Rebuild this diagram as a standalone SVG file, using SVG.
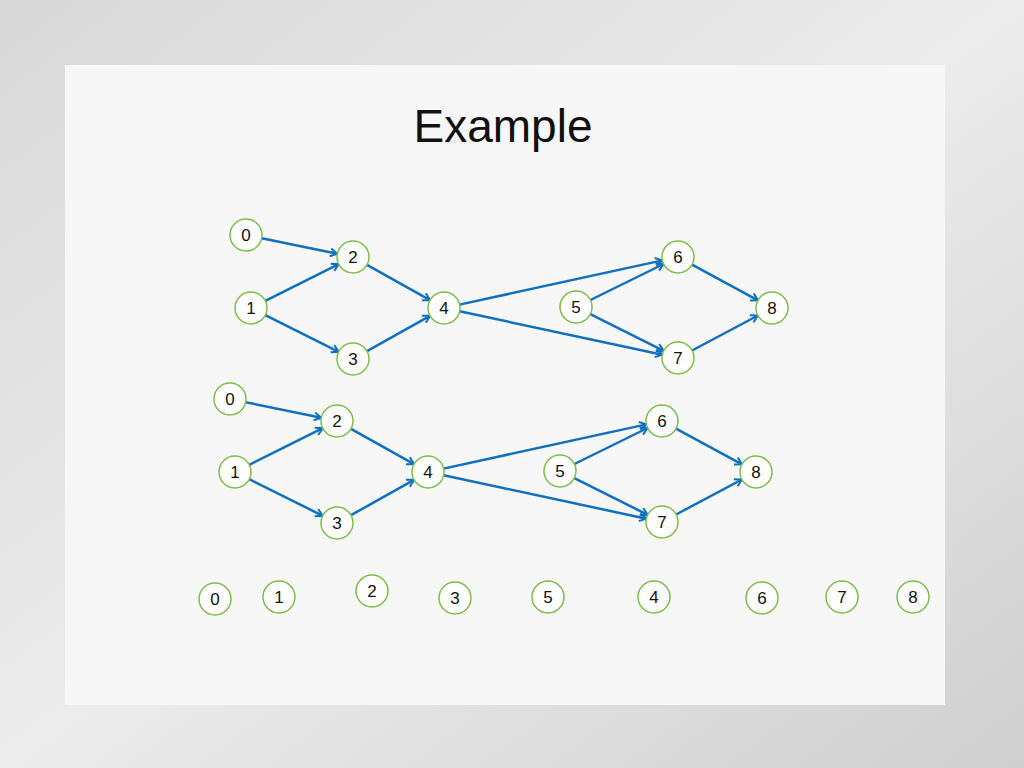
<svg xmlns="http://www.w3.org/2000/svg" width="1024" height="768" viewBox="0 0 1024 768">
<defs>
<marker id="ah" markerWidth="10" markerHeight="10" refX="8" refY="5" orient="auto" markerUnits="userSpaceOnUse">
<path d="M1,1 L8,5 L1,9" fill="none" stroke="#1070C0" stroke-width="2"/>
</marker>
<linearGradient id="bg" x1="0" y1="0" x2="1" y2="1">
<stop offset="0" stop-color="#d8d8d8"/><stop offset="0.5" stop-color="#ececec"/><stop offset="1" stop-color="#cfcfcf"/>
</linearGradient>
</defs>
<style>
.n circle{fill:#ffffff;stroke:#7DBE4A;stroke-width:1.5}
.n text{font-family:"Liberation Sans",Arial,sans-serif;font-size:17px;fill:#111;text-anchor:middle;dominant-baseline:central}
.e line{stroke:#1070C0;stroke-width:2.5;marker-end:url(#ah)}
</style>
<rect width="1024" height="768" fill="url(#bg)"/>
<rect x="65" y="65" width="880" height="640" fill="#f7f7f7"/>
<text x="503" y="126" font-family="Liberation Sans,Arial,sans-serif" font-size="46" text-anchor="middle" dominant-baseline="central" fill="#111">Example</text>

<g id="graph1">
<g id="connectors1" class="e">
<line x1="261.7" y1="238.2" x2="337.3" y2="253.8"/>
<line x1="265.3" y1="300.8" x2="338.7" y2="264.2"/>
<line x1="265.3" y1="315.2" x2="338.7" y2="351.8"/>
<line x1="367" y1="264.8" x2="430" y2="300.2"/>
<line x1="367" y1="351.2" x2="430" y2="315.8"/>
<line x1="459.6" y1="304.6" x2="662.4" y2="260.4"/>
<line x1="459.6" y1="311.3" x2="662.4" y2="354.7"/>
<line x1="590.4" y1="300" x2="663.6" y2="264"/>
<line x1="590.3" y1="314.2" x2="663.7" y2="350.8"/>
<line x1="692" y1="264.6" x2="758" y2="300.4"/>
<line x1="692.1" y1="350.5" x2="757.9" y2="315.5"/>
</g>
<g id="a0" class="n"><circle cx="246" cy="235" r="16"/><text x="246" y="235">0</text></g>
<g id="a1" class="n"><circle cx="251" cy="308" r="16"/><text x="251" y="308">1</text></g>
<g id="a2" class="n"><circle cx="353" cy="257" r="16"/><text x="353" y="257">2</text></g>
<g id="a3" class="n"><circle cx="353" cy="359" r="16"/><text x="353" y="359">3</text></g>
<g id="a4" class="n"><circle cx="444" cy="308" r="16"/><text x="444" y="308">4</text></g>
<g id="a5" class="n"><circle cx="576" cy="307" r="16"/><text x="576" y="307">5</text></g>
<g id="a6" class="n"><circle cx="678" cy="257" r="16"/><text x="678" y="257">6</text></g>
<g id="a7" class="n"><circle cx="678" cy="358" r="16"/><text x="678" y="358">7</text></g>
<g id="a8" class="n"><circle cx="772" cy="308" r="16"/><text x="772" y="308">8</text></g>
</g>

<g id="graph2" transform="translate(-16,164)">
<g id="connectors2" class="e">
<line x1="261.7" y1="238.2" x2="337.3" y2="253.8"/>
<line x1="265.3" y1="300.8" x2="338.7" y2="264.2"/>
<line x1="265.3" y1="315.2" x2="338.7" y2="351.8"/>
<line x1="367" y1="264.8" x2="430" y2="300.2"/>
<line x1="367" y1="351.2" x2="430" y2="315.8"/>
<line x1="459.6" y1="304.6" x2="662.4" y2="260.4"/>
<line x1="459.6" y1="311.3" x2="662.4" y2="354.7"/>
<line x1="590.4" y1="300" x2="663.6" y2="264"/>
<line x1="590.3" y1="314.2" x2="663.7" y2="350.8"/>
<line x1="692" y1="264.6" x2="758" y2="300.4"/>
<line x1="692.1" y1="350.5" x2="757.9" y2="315.5"/>
</g>
<g id="b0" class="n"><circle cx="246" cy="235" r="16"/><text x="246" y="235">0</text></g>
<g id="b1" class="n"><circle cx="251" cy="308" r="16"/><text x="251" y="308">1</text></g>
<g id="b2" class="n"><circle cx="353" cy="257" r="16"/><text x="353" y="257">2</text></g>
<g id="b3" class="n"><circle cx="353" cy="359" r="16"/><text x="353" y="359">3</text></g>
<g id="b4" class="n"><circle cx="444" cy="308" r="16"/><text x="444" y="308">4</text></g>
<g id="b5" class="n"><circle cx="576" cy="307" r="16"/><text x="576" y="307">5</text></g>
<g id="b6" class="n"><circle cx="678" cy="257" r="16"/><text x="678" y="257">6</text></g>
<g id="b7" class="n"><circle cx="678" cy="358" r="16"/><text x="678" y="358">7</text></g>
<g id="b8" class="n"><circle cx="772" cy="308" r="16"/><text x="772" y="308">8</text></g>
</g>

<g id="order">
<g id="c0" class="n"><circle cx="215" cy="599" r="16"/><text x="215" y="599">0</text></g>
<g id="c1" class="n"><circle cx="279" cy="597" r="16"/><text x="279" y="597">1</text></g>
<g id="c2" class="n"><circle cx="372" cy="591" r="16"/><text x="372" y="591">2</text></g>
<g id="c3" class="n"><circle cx="455" cy="598" r="16"/><text x="455" y="598">3</text></g>
<g id="c5" class="n"><circle cx="548" cy="597" r="16"/><text x="548" y="597">5</text></g>
<g id="c4" class="n"><circle cx="654" cy="597" r="16"/><text x="654" y="597">4</text></g>
<g id="c6" class="n"><circle cx="762" cy="598" r="16"/><text x="762" y="598">6</text></g>
<g id="c7" class="n"><circle cx="842" cy="597" r="16"/><text x="842" y="597">7</text></g>
<g id="c8" class="n"><circle cx="913" cy="597" r="16"/><text x="913" y="597">8</text></g>
</g>
</svg>
